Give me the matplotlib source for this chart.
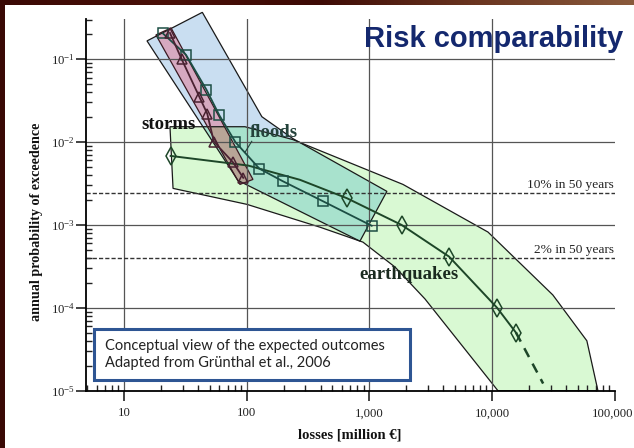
import numpy as np
import matplotlib.pyplot as plt
from matplotlib.patches import Polygon, Rectangle
from matplotlib.colors import LinearSegmentedColormap
from matplotlib.ticker import FuncFormatter, LogLocator, NullFormatter
from matplotlib.transforms import ScaledTranslation

plt.rcParams['font.family'] = 'serif'
plt.rcParams['font.serif'] = ['Liberation Serif', 'DejaVu Serif']
plt.rcParams['mathtext.fontset'] = 'stix'

# ---------------------------------------------------------
# data (losses in million EUR, annual prob.)
# ---------------------------------------------------------
# earthquakes: mean curve, diamonds on some vertices, dashed tail
eq_loss = [24, 103, 272, 656, 1830, 4460, 11000, 15700]
eq_prob = [6.8e-3, 5.2e-3, 3.5e-3, 2.1e-3, 1.0e-3, 4.15e-4, 1.0e-4, 5.0e-5]
eq_marks = [0, 3, 4, 5, 6, 7]
eq_tail_loss = [15700, 26100]
eq_tail_prob = [5.0e-5, 1.22e-5]

# earthquakes envelope
eq_env_loss = [23.7, 96.8, 238, 1880, 9270, 31300, 59300, 73000,
               11170, 2840, 1620, 887, 395, 100.5, 25.1]
eq_env_prob = [1.53e-2, 1.53e-2, 1.07e-2, 3.08e-3, 8.2e-4, 1.43e-4, 4.0e-5, 1.0e-5,
               1.0e-5, 1.28e-4, 3.1e-4, 6.2e-4, 9.4e-4, 1.77e-3, 2.76e-3]

# floods: curve (squares) and envelope
fl_loss = [20.7, 32, 47, 60, 81, 127, 196, 416, 1045]
fl_prob = [0.205, 0.113, 0.0428, 0.0209, 0.00996, 0.00477, 0.00338, 0.00194, 0.000977]
fl_env_loss = [15.4, 43.5, 133, 238, 1390, 838, 84.9]
fl_env_prob = [0.166, 0.367, 0.0202, 0.011, 2.54e-3, 6.37e-4, 3.44e-3]

# storms: curve (triangles) and envelope
st_loss = [23.7, 29.5, 41.1, 47.7, 54, 77.3, 93.8]
st_prob = [0.207, 0.1, 0.0352, 0.022, 0.0101, 0.0057, 0.0037]
st_env_loss = [18.2, 24.2, 112.5, 88.1]
st_env_prob = [0.196, 0.238, 3.54e-3, 3.08e-3]

# reference return periods
ref_prob = [2.4e-3, 3.98e-4]
ref_text = ['10% in 50 years', '2% in 50 years']

x_ticks = [10, 100, 1000, 10000, 100000]
y_ticks = [1e-5, 1e-4, 1e-3, 1e-2, 1e-1]

# ---------------------------------------------------------
# figure
# ---------------------------------------------------------
W, H = 634, 448
fig = plt.figure(figsize=(W / 100, H / 100), dpi=100)
fig.patch.set_facecolor('#3a0905')
fig.add_artist(Rectangle((5 / W, 0), 1, 1 - 5 / H, transform=fig.transFigure,
                         facecolor='white', edgecolor='none', zorder=-5))

# slide border on top: dark red turning brown to the right
top = fig.add_axes([0, 1 - 5 / H, 1, 5 / H])
top.imshow(np.linspace(0, 1, 256)[None, :], aspect='auto',
           cmap=LinearSegmentedColormap.from_list(
               'border', ['#3a0905', '#4a1008', '#3d0a05', '#6a3520', '#8a5a3c']))
top.set_axis_off()

ax = fig.add_axes([86 / W, 1 - 390.7 / H, (614.7 - 86) / W, (390.7 - 19) / H])
ax.set_facecolor('none')
ax.set_xscale('log')
ax.set_yscale('log')
ax.set_xlim(4.9, 1e5)
ax.set_ylim(1e-5, 0.305)


def env_patch(xs, ys, fc, **kw):
    p = Polygon(np.column_stack([xs, ys]), closed=True, facecolor=fc,
                edgecolor='none', zorder=1, **kw)
    ax.add_patch(p)
    return p


def env_outline(xs, ys, ec='#1a1a1a', **kw):
    p = Polygon(np.column_stack([xs, ys]), closed=True, facecolor='none',
                edgecolor=ec, lw=0.9, zorder=1.2, **kw)
    ax.add_patch(p)
    return p


# fills
env_patch(fl_env_loss, fl_env_prob, '#c9def1', clip_on=False)
eq_fill = env_patch(eq_env_loss, eq_env_prob, '#d9f9d3')
teal = env_patch(fl_env_loss, fl_env_prob, '#a8e2cd')
teal.set_clip_path(eq_fill)
env_patch(st_env_loss, st_env_prob, '#d6a9c0')
brown = env_patch(st_env_loss, st_env_prob, '#b8a597')
brown.set_clip_path(eq_fill)

# outlines
env_outline(eq_env_loss, eq_env_prob)
env_outline(fl_env_loss, fl_env_prob, clip_on=False)
env_outline(st_env_loss, st_env_prob, ec='#3a1a22')

# grid
for xv in x_ticks[:-1]:
    ax.axvline(xv, color='#555555', lw=0.9, zorder=1.5)
for yv in y_ticks[1:]:
    ax.axhline(yv, color='#555555', lw=0.9, zorder=1.5)

# reference lines
for p, t in zip(ref_prob, ref_text):
    ax.axhline(p, color='#333333', lw=1.0, ls=(0, (3, 1.5)), zorder=2)
    ax.text(0.998, p * 1.07, t, transform=ax.get_yaxis_transform(),
            ha='right', va='bottom', fontsize=9.6, color='#222222', zorder=4)

# curves
ax.plot(eq_loss, eq_prob, color='#1d4628', lw=1.4, marker='d', ms=9,
        mfc='none', mec='#1d4628', mew=1.1, markevery=eq_marks, zorder=3)
ax.plot(eq_tail_loss, eq_tail_prob, color='#1d4628', lw=1.8,
        ls=(0, (4, 3)), zorder=3)
ax.plot(fl_loss, fl_prob, color='#1c4e44', lw=1.3, marker='s', ms=6.5,
        mfc='none', mec='#1c4e44', mew=1.1, zorder=3)
ax.plot(st_loss, st_prob, color='#4a2232', lw=1.3, marker='^', ms=7,
        mfc='none', mec='#4a2232', mew=1.1, zorder=3)

# labels on the chart
ax.text(13.9, 0.0143, 'storms', fontsize=13.5, fontweight='bold',
        color='#111111', zorder=4)
ax.text(106, 0.0116, 'floods', fontsize=13.5, fontweight='bold',
        color='#24423b', zorder=4)
ax.plot([110, 96.8], [0.0102, 0.0075], color='#24423b', lw=0.8, zorder=4)
ax.text(2100, 2.55e-4, 'earthquakes', fontsize=13.5, fontweight='bold',
        color='#1a2a1f', ha='center', va='center', zorder=4)

# axes styling
for s in ['top', 'right']:
    ax.spines[s].set_visible(False)
for s in ['left', 'bottom']:
    ax.spines[s].set_linewidth(1.3)
    ax.spines[s].set_zorder(5)

ax.set_xticks(x_ticks)
ax.xaxis.set_major_formatter(FuncFormatter(lambda v, pos: f'{int(round(v)):,}'))
ax.xaxis.set_minor_locator(LogLocator(base=10, subs=np.arange(2, 10)))
ax.xaxis.set_minor_formatter(NullFormatter())
ax.set_yticks(y_ticks)
ax.yaxis.set_minor_locator(LogLocator(base=10, subs=np.arange(2, 10)))
ax.yaxis.set_minor_formatter(NullFormatter())
ax.tick_params(which='major', direction='out', length=7, width=1.2,
               labelsize=9.2, colors='#222222')
ax.tick_params(which='minor', direction='in', length=4, width=1.0, color='#222222')
ax.tick_params(axis='x', which='major', pad=5)
ax.tick_params(axis='y', which='major', pad=1)
# last x label sits at the slide edge: nudge it a little to the left
last = ax.xaxis.get_major_ticks()[-1].label1
last.set_transform(last.get_transform() + ScaledTranslation(-0.025, 0, fig.dpi_scale_trans))

fig.text(37 / W, 1 - 222 / H, 'annual probability of exceedence', rotation=90,
         ha='center', va='center', fontsize=10.2, fontweight='bold', color='#111111')
fig.text(350 / W, 1 - 435 / H, 'losses [million \u20ac]', ha='center', va='center',
         fontsize=10.5, fontweight='bold', color='#111111')

# title
fig.text(623 / W, 1 - 47 / H, 'Risk comparability', ha='right', va='baseline',
         fontsize=21, fontweight='bold', family='Liberation Sans', color='#14286e')

# note box
fig.add_artist(Rectangle((94 / W, 1 - 380 / H), (410 - 94) / W, (380 - 329) / H,
                         transform=fig.transFigure, facecolor='white',
                         edgecolor='#2e5593', lw=2.2, zorder=6))
fig.text(105 / W, 1 - 354.5 / H,
         'Conceptual view of the expected outcomes\nAdapted from Gr\u00fcnthal et al., 2006',
         ha='left', va='center', fontsize=10.5, family='Lato', color='#222222',
         linespacing=1.35, zorder=7)

fig.savefig('out.png', dpi=100, facecolor=fig.get_facecolor())
